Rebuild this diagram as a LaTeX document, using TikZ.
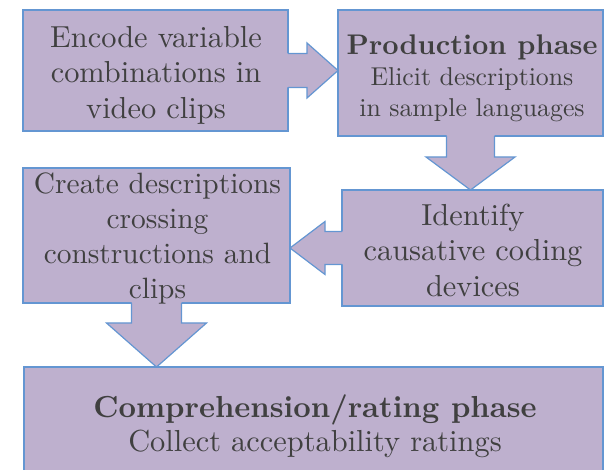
\documentclass[tikz,border=0pt]{standalone}
\usepackage{fontspec}
\setmainfont{lmroman10-regular}[Extension=.otf, BoldFont=lmroman10-bold]
\usetikzlibrary{calc,fit}
\definecolor{boxfill}{RGB}{190,176,206}
\definecolor{boxline}{RGB}{100,150,210}
\definecolor{txtcol}{RGB}{64,64,64}
\begin{document}
\begin{tikzpicture}[x=0.5pt,y=-0.5pt,
  stepbox/.style={draw=boxline, fill=boxfill, line width=0.6pt, inner sep=0pt, outer sep=0pt},
  arrowbody/.style={fill=boxfill, draw=none},
  arrowline/.style={draw=boxline, line width=0.6pt, line join=miter},
  steplabel/.style={text=txtcol, align=center, inner sep=0pt},
  bigfont/.style={font=\fontsize{15.2}{17.75}\selectfont},
]
\useasboundingbox (0,0) rectangle (605,470);
\clip (0,0) rectangle (605,470);

% boxes
\node[stepbox, fit={(23,10) (288,131)}] (boxA) {};
\node[stepbox, fit={(338,10) (603,136)}] (boxB) {};
\node[stepbox, fit={(342,190) (603,306)}] (boxC) {};
\node[stepbox, fit={(23,168) (290,303)}] (boxD) {};
\node[stepbox, fit={(24,367) (603,490)}] (boxE) {};

% arrow A -> B
\coordinate (ab0) at (boxA.east);
\coordinate (abT) at (boxB.west |- boxA.east);
\path[arrowbody] ($(ab0)+(-2,-17)$) -- ($(ab0)+(19,-17)$) -- ($(ab0)+(19,-27.5)$) -- (abT)
  -- ($(ab0)+(19,27.5)$) -- ($(ab0)+(19,17)$) -- ($(ab0)+(-2,17)$) -- cycle;
\draw[arrowline] ($(ab0)+(0,-17)$) -- ($(ab0)+(19,-17)$) -- ($(ab0)+(19,-27.5)$) -- (abT)
  -- ($(ab0)+(19,27.5)$) -- ($(ab0)+(19,17)$) -- ($(ab0)+(0,17)$);

% arrow B -> C
\coordinate (bc0) at (boxB.south);
\coordinate (bcT) at (boxB.south |- boxC.north);
\path[arrowbody] ($(bc0)+(-24,-2)$) -- ($(bc0)+(-24,21)$) -- ($(bc0)+(-44.5,21)$) -- (bcT)
  -- ($(bc0)+(44.5,21)$) -- ($(bc0)+(24,21)$) -- ($(bc0)+(24,-2)$) -- cycle;
\draw[arrowline] ($(bc0)+(-24,0)$) -- ($(bc0)+(-24,21)$) -- ($(bc0)+(-44.5,21)$) -- (bcT)
  -- ($(bc0)+(44.5,21)$) -- ($(bc0)+(24,21)$) -- ($(bc0)+(24,0)$);

% arrow C -> D
\coordinate (cd0) at (boxC.west);
\coordinate (cdT) at (boxD.east |- boxC.west);
\path[arrowbody] ($(cd0)+(2,-16.5)$) -- ($(cd0)+(-17,-16.5)$) -- ($(cd0)+(-17,-26.5)$) -- (cdT)
  -- ($(cd0)+(-17,26.5)$) -- ($(cd0)+(-17,16.5)$) -- ($(cd0)+(2,16.5)$) -- cycle;
\draw[arrowline] ($(cd0)+(0,-16.5)$) -- ($(cd0)+(-17,-16.5)$) -- ($(cd0)+(-17,-26.5)$) -- (cdT)
  -- ($(cd0)+(-17,26.5)$) -- ($(cd0)+(-17,16.5)$) -- ($(cd0)+(0,16.5)$);

% arrow D -> E
\coordinate (de0) at (boxD.south);
\coordinate (deT) at (boxD.south |- boxE.north);
\path[arrowbody] ($(de0)+(-25,-2)$) -- ($(de0)+(-25,20)$) -- ($(de0)+(-50,20)$) -- (deT)
  -- ($(de0)+(50,20)$) -- ($(de0)+(25,20)$) -- ($(de0)+(25,-2)$) -- cycle;
\draw[arrowline] ($(de0)+(-25,0)$) -- ($(de0)+(-25,20)$) -- ($(de0)+(-50,20)$) -- (deT)
  -- ($(de0)+(50,20)$) -- ($(de0)+(25,20)$) -- ($(de0)+(25,0)$);

% texts
\node[steplabel, bigfont] (tA) at (156,75) {Encode variable\\combinations in\\video clips};
\node[steplabel, font=\fontsize{12.9}{15.5}\selectfont] (tB) at (472,78.5)
  {{\fontsize{14.2}{15.5}\selectfont\bfseries Production phase}\\Elicit descriptions\\in sample languages};
\node[steplabel, bigfont] (tC) at (473,250) {Identify\\causative coding\\devices};
\node[steplabel, font=\fontsize{14.7}{17.5}\selectfont] (tD) at (157.5,238)
  {Create descriptions\\crossing\\constructions and\\clips};
\node[steplabel, font=\fontsize{15.2}{17}\selectfont] (tE) at (315,426.5)
  {{\bfseries Comprehension/rating phase}\\Collect acceptability ratings};
\end{tikzpicture}
\end{document}
